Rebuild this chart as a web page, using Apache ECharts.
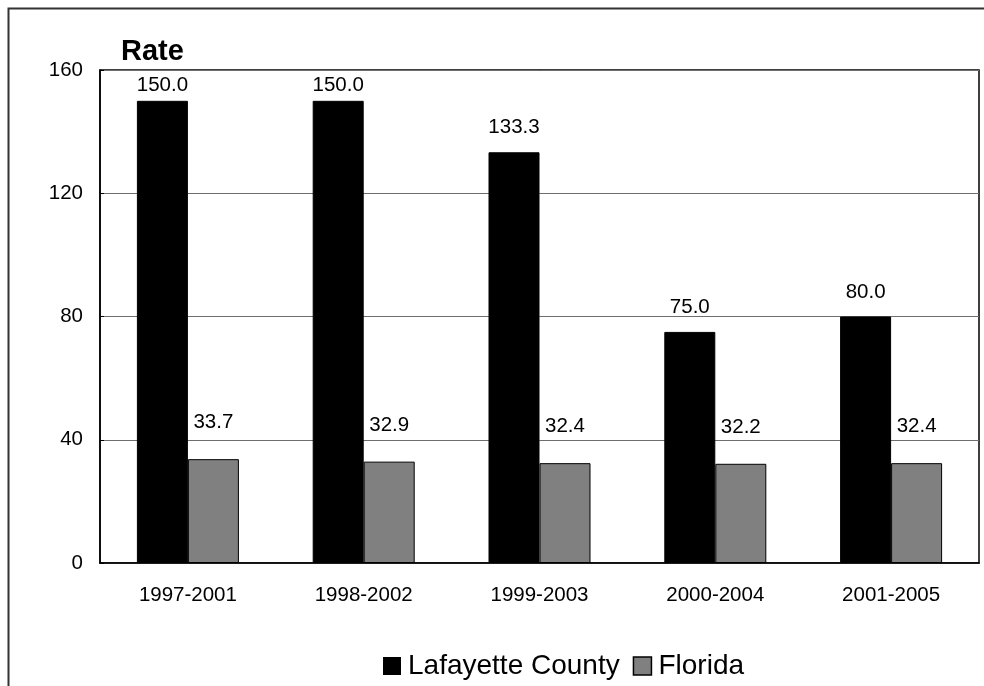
<!DOCTYPE html>
<html><head><meta charset="utf-8">
<script src="https://cdn.jsdelivr.net/npm/echarts@6/dist/echarts.min.js"></script>
<style>html,body{margin:0;padding:0;background:#fff}#c{width:984px;height:686px}</style>
</head><body><div id="c"></div>
<script>
const categories = ['1997-2001','1998-2002','1999-2003','2000-2004','2001-2005'];
const lafayette = [150.0, 150.0, 133.3, 75.0, 80.0];
const florida = [33.7, 32.9, 32.4, 32.2, 32.4];
const yTicks = [0, 40, 80, 120, 160];

const FONT = '"Liberation Sans", Arial, sans-serif';
const GRID_TOP = 70;
const chart = echarts.init(document.getElementById('c'), null, {renderer: 'canvas'});
chart.setOption({
  animation: false,
  backgroundColor: '#fff',
  textStyle: {fontFamily: FONT},
  graphic: [{
    type: 'rect', z: 100, silent: true,
    shape: {x: 8.5, y: 8.5, width: 1000, height: 700},
    style: {fill: 'none', stroke: '#333', lineWidth: 2}
  }],
  title: {
    text: 'Rate', left: 116, top: 32,
    textStyle: {fontFamily: FONT, fontWeight: 'bold', fontSize: 29, color: '#000'}
  },
  legend: {
    top: 647, left: 378,
    itemWidth: 18, itemHeight: 18, itemGap: 13,
    icon: 'rect',
    textStyle: {fontFamily: FONT, fontSize: 28, color: '#000', padding: [0, 0, 0, 2]},
    data: [
      {name: 'Lafayette County', itemStyle: {borderColor: '#000', borderWidth: 0}},
      {name: 'Florida', itemStyle: {borderColor: '#000', borderWidth: 1.5}}
    ]
  },
  grid: {left: 100, right: 5, top: GRID_TOP, bottom: 123, show: true, borderColor: '#000', borderWidth: 1.5},
  xAxis: {
    type: 'category', data: categories,
    axisLine: {lineStyle: {color: '#000', width: 1.5}},
    axisTick: {inside: true, length: 5, lineStyle: {color: '#000'}},
    axisLabel: {color: '#000', fontSize: 20.5, fontFamily: FONT, margin: 22}
  },
  yAxis: {
    type: 'value', min: yTicks[0], max: yTicks[yTicks.length - 1], interval: 40,
    axisLine: {show: true, lineStyle: {color: '#000', width: 1.5}},
    axisTick: {show: true, inside: true, length: 4, lineStyle: {color: '#000'}},
    axisLabel: {color: '#000', fontSize: 20.5, fontFamily: FONT, margin: 17},
    splitLine: {lineStyle: {color: '#6e6e6e', width: 1}}
  },
  labelLayout: function (p) {
    if (p.labelRect.y < GRID_TOP + 5) {
      return {dy: GRID_TOP + 5 - p.labelRect.y};
    }
    return {};
  },
  series: [
    {
      name: 'Lafayette County', type: 'bar', data: lafayette,
      barWidth: 51, barGap: '0%',
      itemStyle: {color: '#000', borderColor: '#000', borderWidth: 1},
      label: {show: true, position: 'top', distance: 14, color: '#000', fontSize: 20.5, fontFamily: FONT,
        formatter: p => p.value.toFixed(1)}
    },
    {
      name: 'Florida', type: 'bar', data: florida,
      barWidth: 51,
      itemStyle: {color: '#808080', borderColor: '#000', borderWidth: 1},
      label: {show: true, position: 'top', distance: 26, color: '#000', fontSize: 20.5, fontFamily: FONT,
        formatter: p => p.value.toFixed(1)}
    }
  ]
});
</script></body></html>
